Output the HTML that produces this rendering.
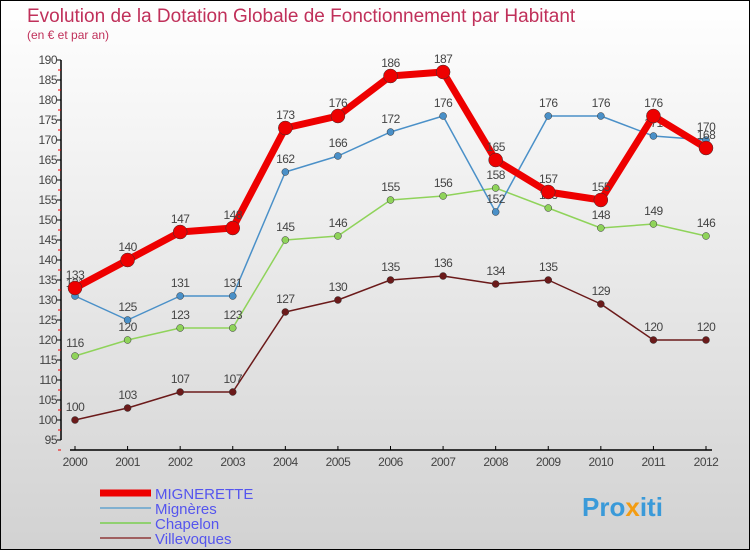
<!DOCTYPE html>
<html><head><meta charset="utf-8"><style>
body{margin:0;}
#wrap{width:750px;height:550px;position:relative;font-family:"Liberation Sans",sans-serif;}
svg text{font-family:"Liberation Sans",sans-serif;}
</style></head><body>
<div id="wrap">
<svg id="svg" width="750" height="550" xmlns="http://www.w3.org/2000/svg">
<defs><linearGradient id="bg" x1="0" y1="0" x2="0" y2="1"><stop offset="0" stop-color="#ffffff"/><stop offset="1" stop-color="#d2d2d2"/></linearGradient></defs>
<rect x="0.5" y="0.5" width="749" height="549" fill="url(#bg)" stroke="#000"/>
<text x="27" y="22" font-size="19" fill="#c0305a">Evolution de la Dotation Globale de Fonctionnement par Habitant</text>
<text x="27" y="39" font-size="12" fill="#c0305a">(en € et par an)</text>
<g id="axes"></g><g id="series"></g><g id="legend"></g>
<text x="582" y="516" font-size="26" font-weight="bold" fill="#3a9ad9">Pro<tspan fill="#f39c12">x</tspan>iti</text>
</svg></div>
<script>
const years=["2000","2001","2002","2003","2004","2005","2006","2007","2008","2009","2010","2011","2012"];
const yTicks=[95,100,105,110,115,120,125,130,135,140,145,150,155,160,165,170,175,180,185,190];
const mignerette=[133,140,147,148,173,176,186,187,165,157,155,176,168];
const migneres=[131,125,131,131,162,166,172,176,152,176,176,171,170];
const chapelon=[116,120,123,123,145,146,155,156,158,153,148,149,146];
const villevoques=[100,103,107,107,127,130,135,136,134,135,129,120,120];
const NS="http://www.w3.org/2000/svg";
const X=i=>75+i*(706-75)/12;
const Y=v=>440-(v-95)*4;
function mk(p,t,a){const e=document.createElementNS(NS,t);for(const k in a)e.setAttribute(k,a[k]);p.appendChild(e);return e;}
const ax=document.getElementById('axes');
let l=mk(ax,'line',{x1:61,y1:Y(190),x2:61,y2:Y(95),stroke:'#000','stroke-width':1.5});


yTicks.forEach(v=>{
 mk(ax,'line',{x1:57,x2:61,y1:Y(v),y2:Y(v),stroke:'#000'});
 mk(ax,'line',{x1:58,x2:61,y1:Y(v)+10,y2:Y(v)+10,stroke:'#e00'});
 const t=mk(ax,'text',{x:57,y:Y(v)+4,'font-size':12,fill:'#444','text-anchor':'end','letter-spacing':'-0.5'});t.textContent=v;
 
 
});
l=mk(ax,'line',{x1:70,x2:712,y1:450,y2:450,stroke:'#000','stroke-width':1.5});


years.forEach((y,i)=>{
 mk(ax,'line',{x1:X(i),x2:X(i),y1:446,y2:450,stroke:'#000'});
 const t=mk(ax,'text',{x:X(i),y:466,'font-size':12,fill:'#444','text-anchor':'middle','letter-spacing':'-0.5'});t.textContent=y;
 
 
});
const sg=document.getElementById('series');
function series(name,data,color,w,r,labelColor){
 const g=mk(sg,'g',{});
 
 
 const pl=mk(g,'polyline',{points:data.map((v,i)=>X(i)+','+Y(v)).join(' '),fill:'none',stroke:color,'stroke-width':w,'stroke-linejoin':'round'});
 
 
 data.forEach((v,i)=>{
  const c=mk(g,'circle',{cx:X(i),cy:Y(v),r:r,fill:color,stroke:'#333','stroke-width':0.5});
  
  
  const t=mk(g,'text',{x:X(i),y:Y(v)-9,'font-size':12,fill:'#444','text-anchor':'middle','letter-spacing':'-0.5'});t.textContent=v;
  
  
 });
}
series('villevoques',villevoques,'#6b1a1a',1.5,3.5);
series('chapelon',chapelon,'#8fd35a',1.5,3.5);
series('migneres',migneres,'#4a90c8',1.5,3.5);
series('mignerette',mignerette,'#ee0000',7,7);
const lg=document.getElementById('legend');
[['MIGNERETTE','#ee0000',7],['Mignères','#80b0d0',2],['Chapelon','#90d070',2],['Villevoques','#a06060',2]].forEach((e,i)=>{
 const y=493+i*15;
 const ln=mk(lg,'line',{x1:100,x2:151,y1:y,y2:y,stroke:e[1],'stroke-width':e[2]});
 
 
 const t=mk(lg,'text',{x:155,y:y+6,'font-size':15,fill:'#5555ee'});t.textContent=e[0];
 
 
});
</script></body></html>
